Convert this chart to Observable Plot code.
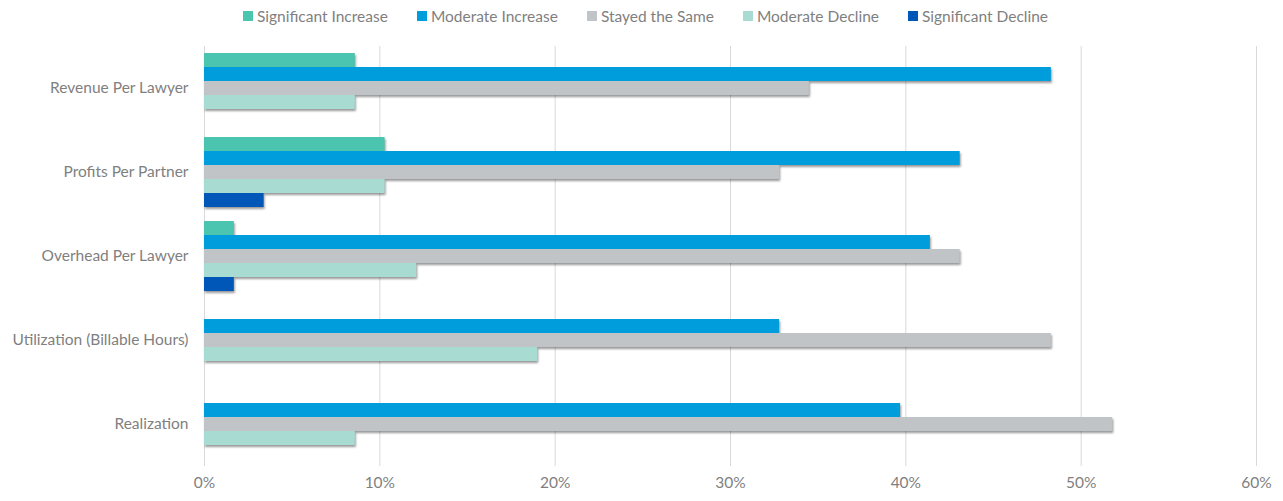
<!DOCTYPE html>
<html><head><meta charset="utf-8">
<script src="https://cdn.jsdelivr.net/npm/d3@7"></script>
<script src="https://cdn.jsdelivr.net/npm/@observablehq/plot@0.6"></script>
<style>
body{margin:0;background:#fff;font-family:Lato,"Open Sans",sans-serif;}
#legend{height:31px;display:flex;justify-content:center;align-items:center;gap:29px;color:#7f7f7f;font-size:15.5px;padding-left:8px;}
.item{display:flex;align-items:center;}
.sw{width:10px;height:10px;margin-right:4px;}
.chart g[aria-label="bar"] rect{filter:drop-shadow(1px 2px 1.2px rgba(0,0,0,0.4));}
</style></head>
<body><div id="legend"></div><div id="chart"></div>
<script>
const categories = ["Revenue Per Lawyer", "Profits Per Partner", "Overhead Per Lawyer", "Utilization (Billable Hours)", "Realization"];
const series = ["Significant Increase", "Moderate Increase", "Stayed the Same", "Moderate Decline", "Significant Decline"];
const colors = ["#4bc5b0", "#009ddc", "#c0c4c6", "#a8dcd3", "#0057b8"];
const significantIncrease = [8.6, 10.3, 1.7, 0, 0];
const moderateIncrease = [48.3, 43.1, 41.4, 32.8, 39.7];
const stayedTheSame = [34.5, 32.8, 43.1, 48.3, 51.8];
const moderateDecline = [8.6, 10.3, 12.1, 19.0, 8.6];
const significantDecline = [0, 3.4, 1.7, 0, 0];
const xTicks = [0, 10, 20, 30, 40, 50, 60];

const seriesValues = [significantIncrease, moderateIncrease, stayedTheSame, moderateDecline, significantDecline];
const data = [];
series.forEach((s, i) => categories.forEach((c, j) => {
  if (seriesValues[i][j] > 0) data.push({category: c, series: s, value: seriesValues[i][j]});
}));

const legend = document.getElementById("legend");
series.forEach((s, i) => {
  const it = document.createElement("div"); it.className = "item";
  const sw = document.createElement("div"); sw.className = "sw"; sw.style.background = colors[i];
  const tx = document.createElement("span"); tx.textContent = s;
  it.append(sw, tx); legend.append(it);
});

const chart = Plot.plot({
  className: "chart",
  width: 1283, height: 470,
  marginTop: 15, marginBottom: 35, marginLeft: 204, marginRight: 27,
  style: {fontFamily: "Lato, 'Open Sans', sans-serif", fontSize: "15.5px", color: "#7f7f7f", background: "#fff"},
  x: {domain: [0, 60], axis: null},
  y: {domain: series, padding: 0, axis: null},
  fy: {domain: categories, paddingInner: 1/6, paddingOuter: 1/12, axis: null},
  color: {domain: series, range: colors},
  marks: [
    Plot.gridX(xTicks, {stroke: "#d9d9d9", strokeOpacity: 1, insetTop: -7, insetBottom: -7}),
    Plot.barX(data, {x: "value", y: "series", fy: "category", fill: "series"}),
    Plot.axisFy({anchor: "left", tickSize: 0, tickPadding: 16, label: null, fill: "#7f7f7f"}),
    Plot.axisX(xTicks, {anchor: "bottom", tickSize: 0, tickPadding: 17, label: null, tickFormat: d => d + "%", fill: "#7f7f7f"})
  ]
});
document.getElementById("chart").append(chart);
</script>
</body></html>
